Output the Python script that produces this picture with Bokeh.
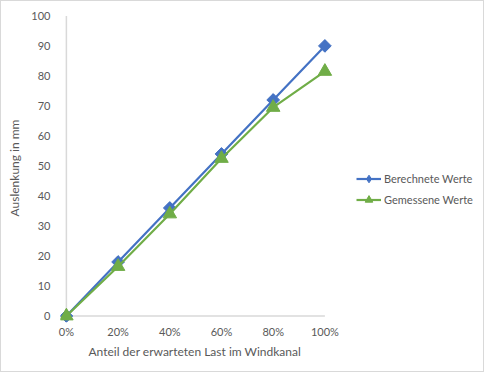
import math
from bokeh.plotting import figure
from bokeh.models import Range1d, FixedTicker, Legend, LegendItem, Title
from bokeh.embed import file_html
from bokeh.resources import INLINE

categories = ["0%", "20%", "40%", "60%", "80%", "100%"]
berechnete = [0, 18, 36, 54, 72, 90]
gemessene = [0, 16.5, 34, 52.5, 69.5, 81.5]
y_ticks = [0, 10, 20, 30, 40, 50, 60, 70, 80, 90, 100]

x = list(range(len(categories)))

BLUE = "#4472C4"
GREEN = "#70AD47"
TEXT = "#595959"
AXIS = "#d9d9d9"
FONT = "Lato"

p = figure(width=484, height=372, output_backend="svg", toolbar_location=None,
           x_range=Range1d(-0.114, 8.068), y_range=Range1d(-2.166, 100.8),
           min_border_left=59, min_border_right=2, min_border_top=12, min_border_bottom=51)
p.xgrid.visible = False
p.ygrid.visible = False
p.outline_line_color = None
p.background_fill_color = "white"
p.border_fill_color = "white"
p.styles = {"border": "1px solid #d9d9d9", "box-sizing": "border-box"}

# axis lines drawn from the data extents
p.line([x[0], x[-1]], [y_ticks[0], y_ticks[0]], line_color=AXIS, line_width=1.5)
p.line([x[0], x[0]], [y_ticks[0], y_ticks[-1]], line_color=AXIS, line_width=1.5)

l1 = p.line(x, berechnete, line_color=BLUE, line_width=2.2)
d1 = p.scatter(x, berechnete, marker="diamond", size=11,
               fill_color=BLUE, line_color=BLUE)  # legend glyph (hidden under squares)
s1 = p.scatter(x, berechnete, marker="square", angle=math.pi / 4, size=9,
               fill_color=BLUE, line_color=BLUE)
l2 = p.line(x, gemessene, line_color=GREEN, line_width=2.2)
s2 = p.scatter(x, gemessene, marker="triangle", size=13.5,
               fill_color=GREEN, line_color=GREEN)

xa = p.xaxis[0]
xa.ticker = FixedTicker(ticks=x)
xa.major_label_overrides = {i: c for i, c in zip(x, categories)}
xa.axis_line_color = None
xa.major_tick_line_color = None
xa.minor_tick_line_color = None
xa.major_label_standoff = -4
xa.major_label_text_font = FONT
xa.major_label_text_font_size = "11px"
xa.major_label_text_color = TEXT

xt = Title(text="Anteil der erwarteten Last im Windkanal", align="left", offset=28,
           text_font=FONT, text_font_size="12px", text_font_style="normal",
           text_color=TEXT, standoff=3)
p.add_layout(xt, "below")

ya = p.yaxis[0]
ya.ticker = FixedTicker(ticks=y_ticks)
ya.axis_line_color = None
ya.major_tick_line_color = None
ya.minor_tick_line_color = None
ya.major_label_standoff = 4
ya.major_label_text_font = FONT
ya.major_label_text_font_size = "11px"
ya.major_label_text_color = TEXT
ya.axis_label = "Auslenkung in mm"
ya.axis_label_text_font = FONT
ya.axis_label_text_font_size = "12px"
ya.axis_label_text_font_style = "normal"
ya.axis_label_text_color = TEXT
ya.axis_label_standoff = 6

legend = Legend(items=[LegendItem(label="Berechnete Werte", renderers=[l1, d1]),
                       LegendItem(label="Gemessene Werte", renderers=[l2, s2])],
                location=(296, 113), margin=0, padding=0, spacing=2,
                glyph_width=25, glyph_height=19, label_height=19, label_standoff=3,
                label_text_font=FONT, label_text_font_size="11px", label_text_color=TEXT,
                border_line_color=None, background_fill_alpha=0)
p.add_layout(legend, "center")

open("out.html", "w").write(file_html(p, INLINE))
